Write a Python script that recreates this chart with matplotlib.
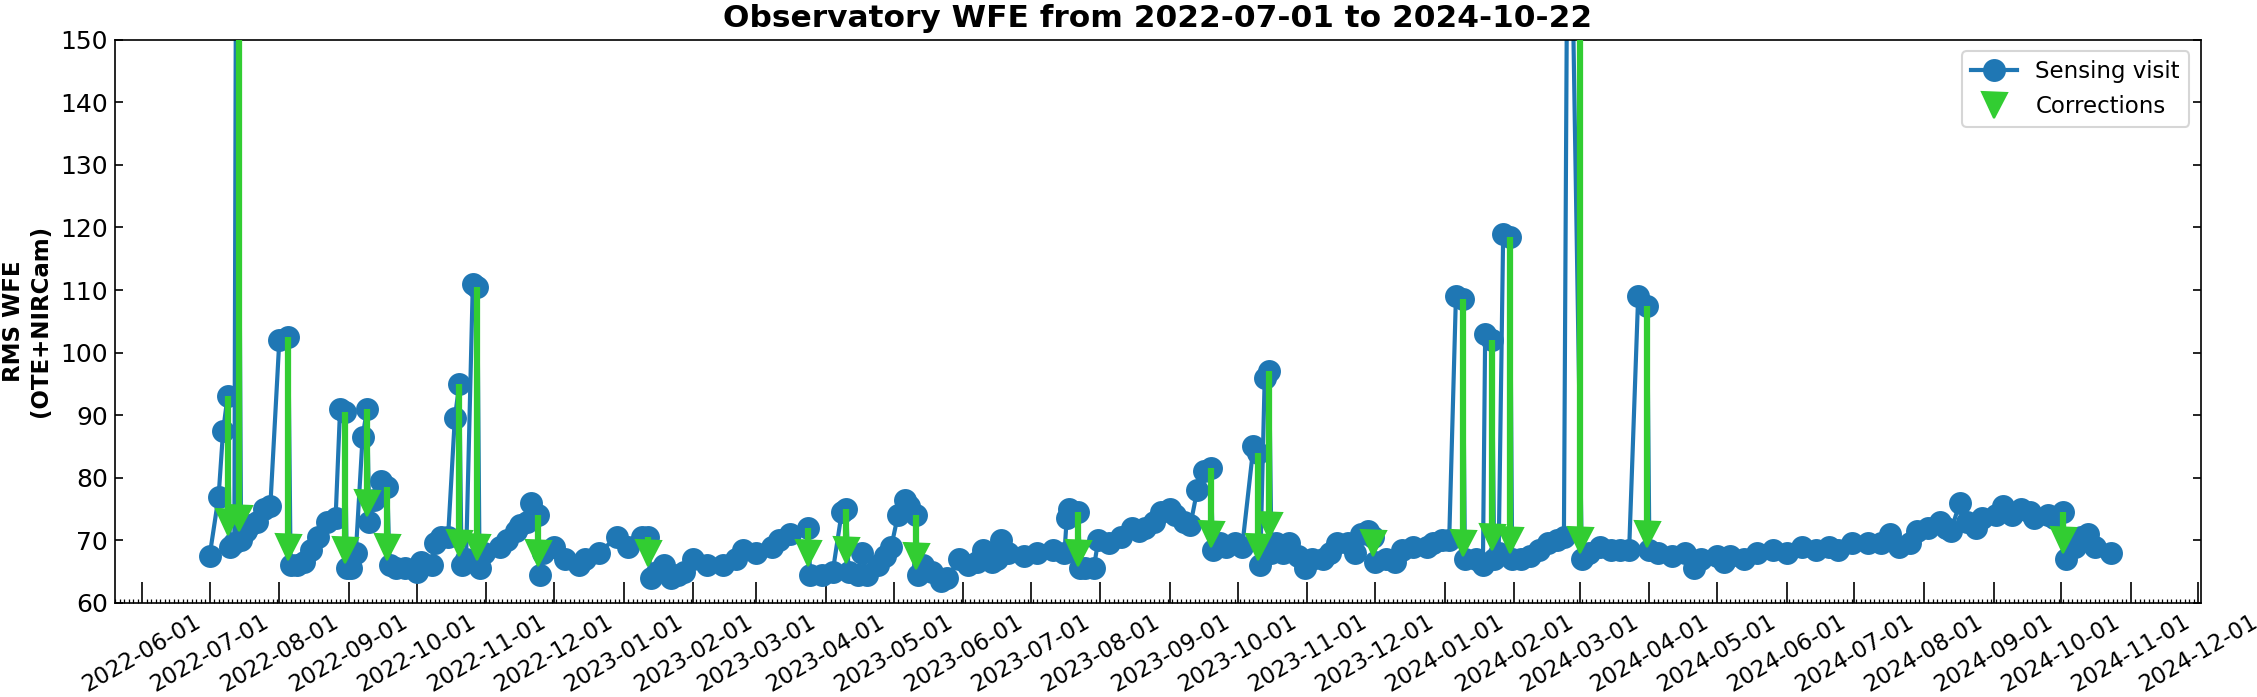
import datetime as dt
import numpy as np
import matplotlib
matplotlib.use("Agg")
import matplotlib.pyplot as plt
import matplotlib.dates as mdates

start = dt.datetime(2022, 7, 1)

# sensing visits: days since start, RMS WFE (nm)
visit_days = [0, 4, 6, 8, 9, 11, 12, 14, 16, 18, 21, 24, 27, 31, 35, 36, 39, 42, 45, 48,
              52, 56, 58, 60, 61, 63, 65, 68, 70, 71, 73, 76, 79, 80, 83, 87, 92, 94, 99, 100,
              103, 106, 109, 111, 112, 114, 117, 119, 120, 122, 129, 132, 136, 138, 141, 143, 146, 147, 148, 153,
              158, 164, 167, 173, 181, 186, 192, 195, 196, 199, 202, 205, 208, 211, 215, 221, 228, 234, 237, 243,
              250, 253, 258, 266, 267, 272, 277, 281, 283, 284, 288, 290, 292, 297, 300, 303, 306, 309, 311, 314,
              315, 317, 321, 325, 328, 333, 337, 341, 344, 348, 350, 352, 355, 362, 368, 375, 380, 381, 382, 386,
              387, 389, 393, 395, 400, 405, 410, 413, 416, 420, 423, 427, 429, 433, 436, 439, 442, 445, 446, 449,
              452, 456, 459, 464, 466, 467, 469, 471, 472, 474, 477, 480, 484, 487, 490, 495, 498, 501, 506, 509,
              512, 515, 517, 518, 523, 527, 530, 535, 541, 544, 548, 551, 554, 557, 558, 563, 566, 567, 570, 571,
              573, 575, 578, 579, 583, 587, 591, 595, 599, 602, 604, 610, 613, 618, 623, 627, 631, 635, 639, 640,
              644, 650, 656, 660, 663, 670, 673, 676, 682, 688, 695, 701, 708, 714, 720, 724, 730, 737, 743, 747,
              751, 756, 759, 764, 769, 772, 774, 778, 781, 785, 788, 794, 797, 801, 805, 809, 811, 817, 820, 824,
              825, 829, 832, 835, 838, 845]
visit_wfe = [67.5, 77, 87.5, 93, 69, 69.5, 200, 70, 71.5, 72.5, 73, 75, 75.5, 102, 102.5, 66, 66, 66.5, 68.5, 70.5,
             73, 73.5, 91, 90.5, 65.5, 65.5, 68, 86.5, 91, 73, 76.5, 79.5, 78.5, 66, 65.5, 65.5, 65, 66.5, 66, 69.5,
             70.5, 70.5, 89.5, 95, 66, 67, 111, 110.5, 65.5, 68, 69, 70, 71.5, 72.5, 73, 76, 74, 64.5, 68, 69,
             67, 66, 67, 68, 70.5, 69, 70.5, 70.5, 64, 65, 66, 64, 64.5, 65, 67, 66, 66, 67, 68.5, 68,
             69, 70, 71, 72, 64.5, 64.5, 65, 74.5, 75, 65, 64.5, 68, 64.5, 66, 67.5, 69, 74, 76.5, 75.5, 74,
             64.5, 66, 65, 63.5, 64, 67, 66, 66.5, 68.5, 66.5, 67, 70, 68, 67.5, 68, 68.5, 68, 73.5, 75, 74.5,
             65.5, 65.5, 65.5, 70, 69.5, 70.5, 72, 71.5, 72, 73, 74.5, 75, 74, 73, 72.5, 78, 81, 81.5, 68.5, 69.5,
             69, 69.5, 69, 85, 84, 66, 96, 97, 68, 69.5, 68, 69.5, 67.5, 65.5, 67, 67, 68, 69.5, 69.5, 68,
             71, 71.5, 70.5, 66.5, 67, 66.5, 68.5, 69, 69, 69.5, 70, 70, 109, 108.5, 67, 67, 66, 103, 102, 67,
             68, 119, 118.5, 67, 67, 67.5, 68.5, 69.5, 70, 70.5, 200, 67, 68, 69, 68.5, 68.5, 68.5, 109, 107.5, 68.5,
             68, 67.5, 68, 65.5, 67, 67.5, 66.5, 67.5, 67, 68, 68.5, 68, 69, 68.5, 69, 68.5, 69.5, 69.5, 69.5, 71,
             69, 69.5, 71.5, 72, 73, 72, 71.5, 76, 73, 72, 73.5, 74, 75.5, 74, 75, 74.5, 73.5, 74, 73.5, 74.5,
             67, 69, 70.5, 71, 69, 68]

# corrections: day, WFE before, WFE predicted after
corr_days = [8, 13, 35, 60, 70, 79, 111, 119, 146, 195, 266, 283, 314, 386, 445, 466, 471, 517, 557, 570,
             578, 609, 639, 824]
corr_before = [93, 200, 102.5, 90.5, 91, 78.5, 95, 110.5, 74, 70.5, 72, 75, 74, 74.5, 81.5, 84, 97, 70.5, 108.5, 102,
               118.5, 200, 107.5, 74.5]
corr_after = [73, 73.5, 69, 68.5, 76, 69, 69.5, 69, 68, 68, 68, 68.5, 67.5, 68, 71, 69, 72.5, 69.5, 69.5, 70.5,
              70, 70, 71, 70]

vdates = [start + dt.timedelta(days=d) for d in visit_days]
cdates = [start + dt.timedelta(days=d) for d in corr_days]

fig = plt.figure(figsize=(2257 / 150, 697 / 150), dpi=150)
ax = fig.add_axes([0.051, 0.135, 0.924, 0.808])

ax.plot(vdates, visit_wfe, '-o', color='#1f77b4', lw=2, ms=10, label='Sensing visit', zorder=2)
ax.vlines(cdates, corr_after, corr_before, color='limegreen', lw=3, zorder=3)
ax.plot(cdates, corr_after, 'v', color='limegreen', ms=12, ls='none', label='Corrections', zorder=3)

ax.set_ylim(60, 150)
ax.set_xlim(dt.datetime(2022, 5, 20), dt.datetime(2024, 12, 2))
ax.xaxis.set_major_locator(mdates.MonthLocator())
ax.xaxis.set_major_formatter(mdates.DateFormatter('%Y-%m-%d'))
ax.xaxis.set_minor_locator(mdates.DayLocator(interval=2))
plt.setp(ax.get_xticklabels(), rotation=30)

ax.tick_params(axis='x', which='major', direction='in', length=10, labelsize=11)
ax.tick_params(axis='x', which='minor', direction='in', length=2)
ax.tick_params(axis='y', direction='in', length=4, right=True, labelsize=12)

ax.set_ylabel('RMS WFE\n(OTE+NIRCam)', fontweight='bold', fontsize=11)
ax.set_title('Observatory WFE from 2022-07-01 to 2024-10-22', fontweight='bold', fontsize=15)
ax.legend(loc='upper right', fontsize=11)

fig.savefig('out.png', dpi=150)
